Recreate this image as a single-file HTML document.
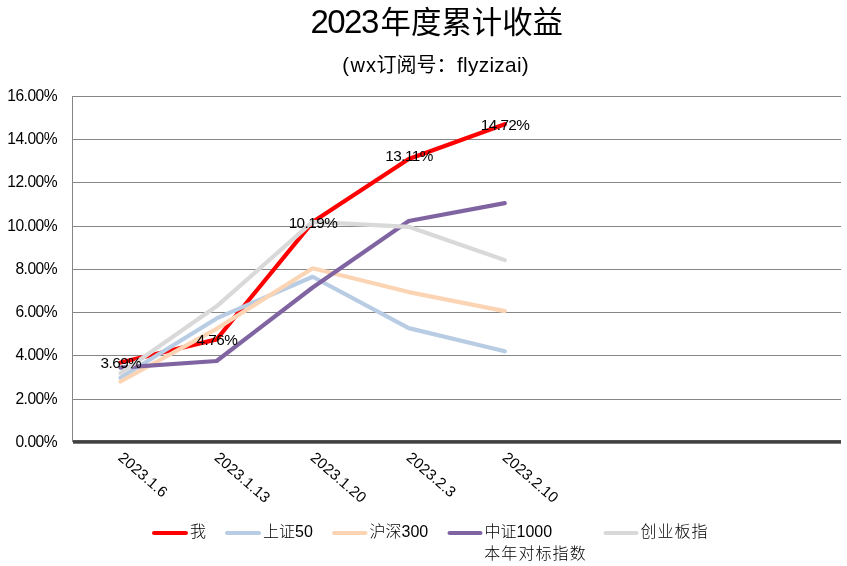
<!DOCTYPE html>
<html><head><meta charset="utf-8"><title>2023年度累计收益</title>
<style>
html,body{margin:0;padding:0;background:#fff;}
body{width:847px;height:566px;overflow:hidden;}
svg{display:block;}
text{font-family:"Liberation Sans", "Noto Sans CJK SC", sans-serif;fill:#000;}
.cj{font-family:"Liberation Sans", "Noto Sans CJK SC", sans-serif;}
</style></head><body>
<svg width="847" height="566" viewBox="0 0 847 566">
<rect width="847" height="566" fill="#fff"/>

<text x="310.5" y="33.4" font-size="30.4"><tspan font-size="33" letter-spacing="-1.55">2023</tspan><tspan x="380.6">年度累计收益</tspan></text>
<text y="72" font-size="20" class="cj"><tspan x="342.3">(</tspan><tspan x="350.6" letter-spacing="1">wx</tspan><tspan x="376.4">订阅号：</tspan><tspan x="457.0" font-size="20.8" letter-spacing="0.3">flyzizai)</tspan></text>
<line x1="72" y1="96.5" x2="841" y2="96.5" stroke="#868686" stroke-width="1"/>
<line x1="72" y1="139.5" x2="841" y2="139.5" stroke="#868686" stroke-width="1"/>
<line x1="72" y1="182.5" x2="841" y2="182.5" stroke="#868686" stroke-width="1"/>
<line x1="72" y1="226.5" x2="841" y2="226.5" stroke="#868686" stroke-width="1"/>
<line x1="72" y1="269.5" x2="841" y2="269.5" stroke="#868686" stroke-width="1"/>
<line x1="72" y1="312.5" x2="841" y2="312.5" stroke="#868686" stroke-width="1"/>
<line x1="72" y1="355.5" x2="841" y2="355.5" stroke="#868686" stroke-width="1"/>
<line x1="72" y1="399.5" x2="841" y2="399.5" stroke="#868686" stroke-width="1"/>
<line x1="72.5" y1="96" x2="72.5" y2="442" stroke="#868686" stroke-width="1"/>
<rect x="73" y="440.1" width="768" height="3.6" fill="#404040"/>
<text x="57.1" y="101.0" font-size="15.6" letter-spacing="-0.5" text-anchor="end">16.00%</text>
<text x="57.1" y="144.0" font-size="15.6" letter-spacing="-0.5" text-anchor="end">14.00%</text>
<text x="57.1" y="187.0" font-size="15.6" letter-spacing="-0.5" text-anchor="end">12.00%</text>
<text x="57.1" y="231.0" font-size="15.6" letter-spacing="-0.5" text-anchor="end">10.00%</text>
<text x="57.1" y="274.0" font-size="15.6" letter-spacing="-0.5" text-anchor="end">8.00%</text>
<text x="57.1" y="317.0" font-size="15.6" letter-spacing="-0.5" text-anchor="end">6.00%</text>
<text x="57.1" y="360.0" font-size="15.6" letter-spacing="-0.5" text-anchor="end">4.00%</text>
<text x="57.1" y="404.0" font-size="15.6" letter-spacing="-0.5" text-anchor="end">2.00%</text>
<text x="57.1" y="446.5" font-size="15.6" letter-spacing="-0.5" text-anchor="end">0.00%</text>
<polyline points="120.53,362.50 216.59,339.38 312.66,222.10 408.72,159.02 504.78,124.25" fill="none" stroke="#FF0000" stroke-width="4.2" stroke-linejoin="round" stroke-linecap="round"/>
<polyline points="120.53,377.83 216.59,318.43 312.66,276.74 408.72,328.15 504.78,351.26" fill="none" stroke="#B8CCE4" stroke-width="4.2" stroke-linejoin="round" stroke-linecap="round"/>
<polyline points="120.53,381.50 216.59,328.80 312.66,268.32 408.72,292.08 504.78,311.09" fill="none" stroke="#FBD4B4" stroke-width="4.2" stroke-linejoin="round" stroke-linecap="round"/>
<polyline points="120.53,367.68 216.59,360.98 312.66,287.54 408.72,221.02 504.78,203.09" fill="none" stroke="#8064A2" stroke-width="4.2" stroke-linejoin="round" stroke-linecap="round"/>
<polyline points="120.53,373.30 216.59,306.34 312.66,221.88 408.72,226.85 504.78,260.11" fill="none" stroke="#D9D9D9" stroke-width="4.2" stroke-linejoin="round" stroke-linecap="round"/>
<text x="120.83" y="367.90" font-size="15.3" letter-spacing="-0.55" text-anchor="middle">3.69%</text>
<text x="216.89" y="344.78" font-size="15.3" letter-spacing="-0.55" text-anchor="middle">4.76%</text>
<text x="312.96" y="227.50" font-size="15.3" letter-spacing="-0.55" text-anchor="middle">10.19%</text>
<text x="409.02" y="160.82" font-size="15.3" letter-spacing="-0.55" text-anchor="middle">13.11%</text>
<text x="505.08" y="129.65" font-size="15.3" letter-spacing="-0.55" text-anchor="middle">14.72%</text>
<text transform="translate(117.33,459.0) rotate(41)" font-size="15.1" letter-spacing="0.1">2023.1.6</text>
<text transform="translate(213.39,459.0) rotate(41)" font-size="15.1" letter-spacing="0.1">2023.1.13</text>
<text transform="translate(309.46,459.0) rotate(41)" font-size="15.1" letter-spacing="0.1">2023.1.20</text>
<text transform="translate(405.52,459.0) rotate(41)" font-size="15.1" letter-spacing="0.1">2023.2.3</text>
<text transform="translate(501.58,459.0) rotate(41)" font-size="15.1" letter-spacing="0.1">2023.2.10</text>
<line x1="154" y1="533" x2="186" y2="533" stroke="#FF0000" stroke-width="4" stroke-linecap="round"/>
<text x="190" y="537" font-size="16" font-weight="300" class="cj" letter-spacing="1">我</text>
<line x1="227" y1="533" x2="259" y2="533" stroke="#B8CCE4" stroke-width="4" stroke-linecap="round"/>
<text x="263" y="537" font-size="16" font-weight="300" class="cj">上证50</text>
<line x1="334" y1="533" x2="365.5" y2="533" stroke="#FBD4B4" stroke-width="4" stroke-linecap="round"/>
<text x="369.5" y="537" font-size="16" font-weight="300" class="cj">沪深300</text>
<line x1="449.5" y1="533" x2="480.5" y2="533" stroke="#8064A2" stroke-width="4" stroke-linecap="round"/>
<text x="484.5" y="537" font-size="16" font-weight="300" class="cj">中证1000</text>
<line x1="605.5" y1="533" x2="636.5" y2="533" stroke="#D9D9D9" stroke-width="4" stroke-linecap="round"/>
<text x="640.5" y="537" font-size="16" font-weight="300" class="cj" letter-spacing="1">创业板指</text>
<text x="484.2" y="558.6" font-size="16" font-weight="300" letter-spacing="1.1" class="cj">本年对标指数</text>
</svg></body></html>
